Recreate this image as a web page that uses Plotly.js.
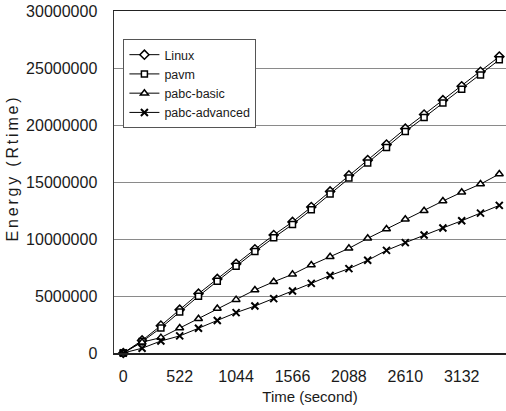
<!DOCTYPE html>
<html>
<head>
<meta charset="utf-8">
<script src="https://cdn.plot.ly/plotly-3.0.1.min.js"></script>
<style>
  html, body { margin: 0; padding: 0; background: #fff; }
  #chart { width: 506px; height: 411px; }
  /* the energy axis title is set wide, like the rest of the figure's lettering */
  #chart .g-ytitle text { letter-spacing: 2.8px; }
</style>
</head>
<body>
<div id="chart"></div>
<script>
// Elapsed time of each sample (seconds)
const timeSec = [0, 174, 348, 522, 696, 870, 1044, 1218, 1392, 1566, 1740,
                 1914, 2088, 2262, 2436, 2610, 2784, 2958, 3132, 3306, 3480];

// Cumulative energy (Rtime) per scheduler
const linuxEnergy = [0, 1100000, 2400000, 3800000, 5200000, 6500000, 7820000, 9100000,
                     10350000, 11500000, 12800000, 14170000, 15580000, 16920000, 18280000,
                     19680000, 20920000, 22180000, 23400000, 24670000, 26000000];
const pavmEnergy = [0, 1000000, 2200000, 3600000, 4980000, 6300000, 7620000, 8900000,
                    10120000, 11280000, 12570000, 13950000, 15350000, 16670000, 18030000,
                    19430000, 20660000, 21920000, 23130000, 24380000, 25720000];
const pabcBasicEnergy = [0, 950000, 1350000, 2200000, 3000000, 3900000, 4680000, 5530000,
                         6250000, 6900000, 7720000, 8450000, 9180000, 10060000, 10880000,
                         11730000, 12480000, 13330000, 14100000, 14820000, 15700000];
const pabcAdvancedEnergy = [0, 420000, 1050000, 1500000, 2170000, 2850000, 3540000, 4120000,
                            4770000, 5440000, 6110000, 6800000, 7400000, 8130000, 9000000,
                            9680000, 10350000, 10970000, 11600000, 12270000, 12950000];

// Labelled ticks on the time axis
const xTickVals = [0, 522, 1044, 1566, 2088, 2610, 3132];
const xTickText = ['0', '522', '1044', '1566', '2088', '2610', '3132'];

const FONT = '"Liberation Sans", Arial, sans-serif';

function series(name, y, symbol, size) {
  return {
    type: 'scatter',
    mode: 'lines+markers',
    name: name,
    x: timeSec,
    y: y,
    line: { color: '#000', width: 1 },
    marker: {
      symbol: symbol,
      size: size,
      color: '#fff',
      line: { color: '#000', width: 1.5 }
    },
    cliponaxis: false
  };
}

const advanced = series('pabc-advanced', pabcAdvancedEnergy, 'x-thin', 7);
advanced.marker.line.width = 2;

const data = [
  series('Linux', linuxEnergy, 'diamond', 7),
  series('pavm', pavmEnergy, 'square', 6),
  series('pabc-basic', pabcBasicEnergy, 'triangle-up', 7),
  advanced
];

const layout = {
  width: 506,
  height: 411,
  margin: { l: 114, r: 0, t: 11, b: 58 },
  paper_bgcolor: '#fff',
  plot_bgcolor: '#fff',
  font: { family: FONT, color: '#1a1a1a', size: 16 },
  showlegend: true,
  legend: {
    x: 0.024, y: 0.918, xanchor: 'left', yanchor: 'top',
    bgcolor: '#fff',
    bordercolor: '#555',
    borderwidth: 1,
    font: { family: FONT, size: 12.5, color: '#1a1a1a' },
    tracegroupgap: 0
  },
  xaxis: {
    range: [-86, 3542],
    tickmode: 'array',
    tickvals: xTickVals,
    ticktext: xTickText,
    ticks: '',
    ticklabelstandoff: 8,
    tickfont: { family: FONT, size: 16, color: '#1a1a1a' },
    showgrid: false,
    zeroline: false,
    showline: true,
    mirror: true,
    linecolor: '#222',
    linewidth: 1.5,
    title: { text: 'Time (second)', font: { family: FONT, size: 15, color: '#1a1a1a' }, standoff: 8 }
  },
  yaxis: {
    range: [0, 30000000],
    dtick: 5000000,
    tickformat: 'd',
    ticks: '',
    ticklabelstandoff: 12,
    tickfont: { family: FONT, size: 16, color: '#1a1a1a' },
    showgrid: true,
    gridcolor: '#8a8a8a',
    gridwidth: 1,
    zeroline: false,
    showline: true,
    linecolor: '#333',
    linewidth: 1.5,
    title: { text: 'Energy (Rtime)', font: { family: FONT, size: 16, color: '#1a1a1a' }, standoff: 3 }
  }
};

Plotly.newPlot('chart', data, layout, { displayModeBar: false, staticPlot: true }).then(function (gd) {
  // Lift the rotated energy title a little above the plot's mid-height:
  // moving it along its own baseline (x) shifts it upward once rotated.
  const t = gd.querySelector('.g-ytitle text');
  if (t) {
    const x = parseFloat(t.getAttribute('x'));
    t.setAttribute('x', String(x + 14));
  }
});
</script>
</body>
</html>
